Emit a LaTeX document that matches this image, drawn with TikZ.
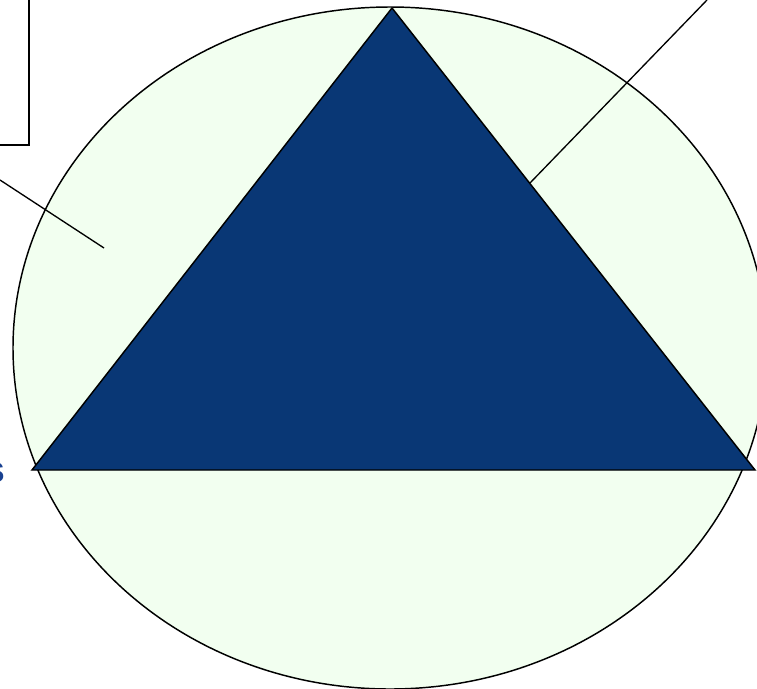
\documentclass[tikz,border=0pt]{standalone}
\usepackage{fontspec}
\setmainfont{Liberation Sans}
\definecolor{tri}{RGB}{9,55,117}
\definecolor{pale}{RGB}{242,255,240}
\definecolor{txt}{RGB}{25,65,145}
\begin{document}
\begin{tikzpicture}[x=0.75pt,y=-0.75pt,
  outline/.style={draw=black,line width=1.1pt},
  leader/.style={draw=black,line width=1pt}]
\useasboundingbox (0,0) rectangle (757,689);
\clip (0,0) rectangle (757,689);
\fill[white] (0,0) rectangle (757,689);
% ellipse
\draw[outline,fill=pale] (390,348) ellipse [x radius=377, y radius=341];
% triangle
\coordinate (apex) at (392,8);
\coordinate (bl) at (32,470);
\coordinate (br) at (755,470);
\draw[outline,fill=tri,line join=miter] (apex) -- (br) -- (bl) -- cycle;
% box at top left
\draw[line width=1.4pt] (-20,-20) rectangle (29,145);
% leader lines
\coordinate (l1) at (0,180);
\coordinate (l2) at (104,248);
\draw[leader] (l1) -- (l2);
\coordinate (r1) at (707,0);
\coordinate (r2) at (530,183);
\draw[leader] (r1) -- (r2);
% cut text
\node[anchor=base east,inner sep=0pt,text=txt,font=\fontsize{28}{30}\selectfont\bfseries] (word) at (6,482) {s};
\end{tikzpicture}
\end{document}
